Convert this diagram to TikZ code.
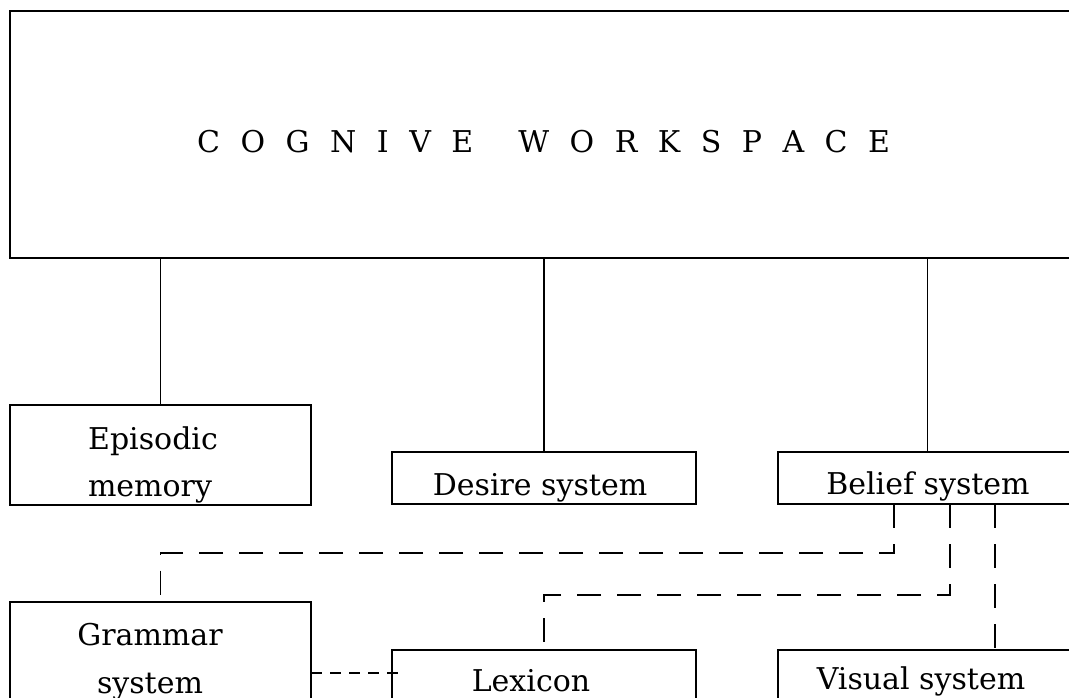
\documentclass[tikz,border=0pt]{standalone}
\usepackage{fontspec}
\setmainfont{DejaVu Serif}
\newcommand\lsp{\hspace{20.5pt}}
\newcommand\wsp{\hspace{45pt}}
\begin{document}
\begin{tikzpicture}[x=1pt,y=-1pt,
  box/.style={draw, line width=2.4pt, rectangle, anchor=north west,
              inner sep=0pt, outer sep=0pt},
  lbl/.style={anchor=base, inner sep=0pt, font=\fontsize{30}{36}\selectfont},
  link/.style={line width=1.8pt},
  dlink/.style={line width=1.8pt, dash pattern=on 24pt off 16pt},
  dshort/.style={line width=1.8pt, dash pattern=on 11pt off 8pt}]
\useasboundingbox (0,0) rectangle (1069,697);
\clip (0,0) rectangle (1069,697);

% workspace frame
\node[box, minimum width=1100pt, minimum height=247pt] (ws) at (10,11) {};
\node[lbl, anchor=base west] (title) at (197,152)
  {C\lsp O\lsp G\lsp N\lsp I\lsp V\lsp E\wsp W\lsp O\lsp R\lsp K\lsp S\lsp P\lsp A\lsp C\lsp E};

% subsystems
\node[box, minimum width=301pt, minimum height=100pt] (epi) at (10,405) {};
\node[box, minimum width=304pt, minimum height=52pt]  (des) at (392,452) {};
\node[box, minimum width=299pt, minimum height=52pt]  (bel) at (778,452) {};
\node[box, minimum width=301pt, minimum height=142pt] (gram) at (10,602) {};
\node[box, minimum width=304pt, minimum height=100pt] (lex) at (392,650) {};
\node[box, minimum width=299pt, minimum height=100pt] (vis) at (778,650) {};

% labels
\node[lbl] (epiA) at (153,449) {Episodic};
\node[lbl] (epiB) at (150,496) {memory};
\node[lbl] (desL) at (540,495) {Desire system};
\node[lbl] (belL) at (928,494) {Belief system};
\node[lbl] (gramA) at (150,645) {Grammar};
\node[lbl] (gramB) at (150,693) {system};
\node[lbl] (lexL) at (531,691) {Lexicon};
\node[lbl] (visL) at (921,689) {Visual system};

% solid links to the workspace
\draw[link] (ws.south -| epi.north) -- (epi.north);
\draw[link] (ws.south -| des.north) -- (des.north);
\draw[link] (ws.south -| bel.north) -- (bel.north);

% dashed links from the belief system
\draw[dlink] ([xshift=-33.5pt]bel.south) -- ++(0,49) -| (gram.north);
\draw[dlink] ([xshift=22.5pt]bel.south) -- ++(0,91) -| (lex.north);
\draw[dlink] ([xshift=67.5pt]bel.south) -- ([xshift=67.5pt]vis.north);
\draw[dshort] (gram.east) -- ([xshift=6pt]lex.west |- gram.east);
\end{tikzpicture}
\end{document}
